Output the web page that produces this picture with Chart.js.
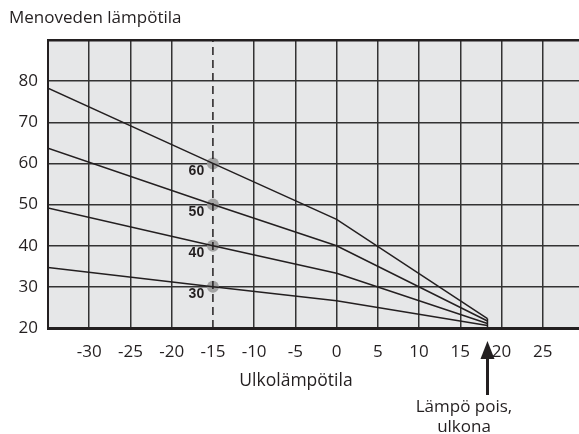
<!DOCTYPE html>
<html>
<head>
<meta charset="utf-8">
<script src="https://cdn.jsdelivr.net/npm/chart.js@4/dist/chart.umd.min.js"></script>
<style>
  html, body { margin: 0; padding: 0; background: #fff; }
  canvas { display: block; }
</style>
</head>
<body>
<canvas id="curveChart" width="579" height="434"></canvas>
<script>
// outdoor temperature breakpoints of the heating curves
const outdoorTemps = [-35, -15, 0, 18.3];
const curve60 = [78.3, 60, 46.4, 22.3];
const curve50 = [63.7, 50, 40, 21.7];
const curve40 = [49.2, 40, 33.3, 21.1];
const curve30 = [34.7, 30, 26.6, 20.6];

// design point at -15 and the curve labels
const designTemp = -15;
const curveSetpoints = [60, 50, 40, 30];
const curveLabels = ["60", "50", "40", "30"];

const heatOffTemp = 18.3;
const xMin = -35, xMax = 29.4;
const yMin = 20, yMax = 90;

const yTitle = "Menoveden lämpötila";
const xTitle = "Ulkolämpötila";
const arrowText = ["Lämpö pois,", "ulkona"];

const FONT = "'Open Sans', 'Noto Sans', sans-serif";
const INK = "#231f20";

function toPoints(xs, ys) {
    return xs.map((x, i) => ({ x: x, y: ys[i] }));
}

function curveSet(values) {
    return {
        data: toPoints(outdoorTemps, values),
        borderColor: INK,
        borderWidth: 1.5,
        pointRadius: 0,
        tension: 0,
    };
}

const datasets = [
    curveSet(curve60),
    curveSet(curve50),
    curveSet(curve40),
    curveSet(curve30),
    {
        // dashed design temperature line
        data: [{ x: designTemp, y: yMin }, { x: designTemp, y: yMax }],
        borderColor: INK,
        borderWidth: 1.5,
        borderDash: [8, 5],
        pointRadius: 0,
    },
    {
        // short stub where the curves meet
        data: [{ x: heatOffTemp, y: yMin }, { x: heatOffTemp, y: curve60[3] }],
        borderColor: INK,
        borderWidth: 1.5,
        pointRadius: 0,
    },
    {
        data: curveSetpoints.map((v) => ({ x: designTemp, y: v })),
        showLine: false,
        pointRadius: 6,
        pointBackgroundColor: "rgba(155,155,155,0.9)",
        pointBorderWidth: 0,
    },
];

var plotBg = {
    id: "plotBg",
    beforeDraw(chart) {
        const a = chart.chartArea;
        const ctx = chart.ctx;
        ctx.save();
        ctx.fillStyle = "#e6e7e8";
        ctx.fillRect(a.left, a.top, a.right - a.left, a.bottom - a.top);
        ctx.restore();
    },
};

var annotations = {
    id: "annotations",
    afterDraw(chart) {
        const ctx = chart.ctx;
        const xs = chart.scales.x;
        const ys = chart.scales.y;
        ctx.save();
        ctx.fillStyle = INK;
        ctx.strokeStyle = INK;
        ctx.textBaseline = "middle";

        ctx.font = "17px " + FONT;
        ctx.textAlign = "left";
        ctx.fillText(yTitle, 9, 18);

        ctx.textAlign = "center";
        ctx.font = "17.5px " + FONT;
        ctx.fillText(xTitle, 296, 381);
        ctx.font = "17px " + FONT;
        ctx.fillText(arrowText[0], 464, 407);
        ctx.fillText(arrowText[1], 464, 427);

        // curve labels next to the design points
        ctx.font = "bold 14px 'Liberation Sans', Arial, sans-serif";
        const px = xs.getPixelForValue(designTemp);
        curveSetpoints.forEach((v, i) => {
            ctx.fillText(curveLabels[i], px - 16.5, ys.getPixelForValue(v) + 7.5);
        });

        // arrow pointing at heat-off temperature
        const ax = xs.getPixelForValue(heatOffTemp);
        ctx.lineWidth = 3;
        ctx.beginPath();
        ctx.moveTo(ax, 395);
        ctx.lineTo(ax, 355);
        ctx.stroke();
        ctx.beginPath();
        ctx.moveTo(ax, 341);
        ctx.lineTo(ax - 7, 359);
        ctx.lineTo(ax + 7, 359);
        ctx.closePath();
        ctx.fill();
        ctx.restore();
    },
};

new Chart(document.querySelector("#curveChart"), {
    type: "scatter",
    data: { datasets: datasets },
    options: {
        responsive: false,
        animation: false,
        devicePixelRatio: 1,
        layout: { autoPadding: false, padding: { top: 40, left: 0, right: 0, bottom: 0 } },
        plugins: {
            legend: { display: false },
            tooltip: { enabled: false },
        },
        elements: { line: { fill: false } },
        datasets: { scatter: { showLine: true } },
        scales: {
            x: {
                type: "linear",
                min: xMin,
                max: xMax,
                afterFit: (s) => {
                    s.height = 106;
                    s.paddingLeft = 0;
                    s.paddingRight = 0;
                },
                ticks: {
                    stepSize: 5,
                    includeBounds: false,
                    padding: 14,
                    maxRotation: 0,
                    autoSkip: false,
                    color: INK,
                    font: { family: FONT, size: 17 },
                    callback: (v) => (v > xMin && v % 5 === 0 ? String(v) : ""),
                },
                grid: {
                    drawTicks: false,
                    lineWidth: 1.5,
                    color: (c) => (c.tick && c.tick.value === designTemp ? "rgba(0,0,0,0)" : "#333"),
                },
                border: { color: INK, width: 3 },
            },
            y: {
                type: "linear",
                min: yMin,
                max: yMax,
                afterFit: (s) => { s.width = 48; },
                ticks: {
                    stepSize: 10,
                    padding: 10,
                    color: INK,
                    font: { family: FONT, size: 17 },
                    callback: (v) => (v < yMax ? String(v) : ""),
                },
                grid: {
                    drawTicks: false,
                    lineWidth: (c) => (c.tick && c.tick.value === yMax ? 2.5 : 1.5),
                    color: (c) => (c.tick && c.tick.value === yMax ? INK : "#333"),
                },
                border: { color: INK, width: 2 },
            },
        },
    },
    plugins: [plotBg, annotations],
});
</script>
</body>
</html>
